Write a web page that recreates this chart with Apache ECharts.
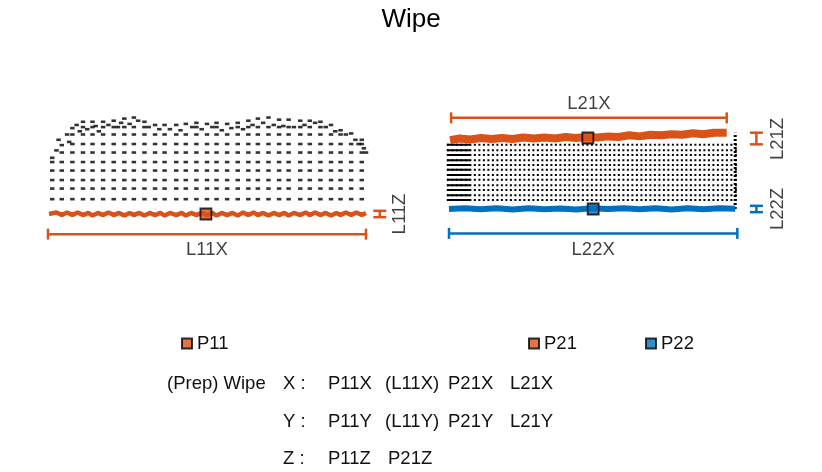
<!DOCTYPE html>
<html>
<head>
<meta charset="utf-8">
<script src="https://cdn.jsdelivr.net/npm/echarts@6/dist/echarts.min.js"></script>
<style>
  html, body { margin: 0; padding: 0; background: #fff; }
  #chart { width: 822px; height: 472px; }
</style>
</head>
<body>
<div id="chart"></div>
<script>
// left cloud (x, z in mm)
const leftColX = [4, 13, 23, 33, 42, 52, 62, 72, 81, 91, 101, 110, 121, 130, 140, 150, 159, 169, 179, 189, 198, 208, 218, 227, 238, 247, 257, 267, 276, 286, 296]
const leftColTop = [53, 65, 81, 87, 87, 87, 88, 90, 91, 87, 84, 84, 84, 85, 86, 85, 86, 85, 86, 88, 90, 91, 89, 89, 88, 88, 87, 84, 79, 76, 70]
const leftRowZ = [14, 24, 32, 41, 49, 58, 66, 75, 82]
const leftTopExtra = [[8, 60], [10, 70], [18, 75], [20, 68], [27, 84], [30, 78], [37, 80], [45, 83], [48, 78], [57, 84],
  [66, 82], [69, 86], [77, 85], [85, 88], [95, 82], [105, 80], [115, 80], [125, 79], [136, 82], [145, 80],
  [155, 82], [164, 79], [173, 81], [184, 80], [193, 84], [203, 86], [213, 84], [222, 83], [232, 82], [242, 84],
  [252, 86], [262, 82], [271, 78], [281, 75], [290, 70], [293, 66], [298, 62], [300, 58]]
const leftBandX = [1, 8, 13, 18, 23, 28, 33, 38, 42, 47, 52, 57, 62, 67, 72, 77, 81, 86, 91, 96, 101, 106, 110, 115, 121, 126, 130, 135, 140, 145,
  150, 155, 159, 164, 169, 174, 179, 184, 189, 194, 198, 203, 208, 213, 218, 223, 227, 232, 238, 243, 247, 252, 257, 262, 267, 272, 276, 281, 286, 291, 296, 300]
const leftBandZ = [0, 1.5, -1, 1.5, -1, 1.5, -1, 1, -1.5, 1, -1, 1.5, -1, 1, -1.5, 1, -1, 1, -1.5, 1, -1, 1, -1.5, 1, -1, 1, -1.5, 1, -1, 1,
  -1, 1, -1.5, 1, -1, 1, -1.5, 1.5, -1, 1.5, -1, 1, -1.5, 1, -1, 1, -1.5, 1, -1, 1.5, -1, 1.5, -1, 1, -1.5, 1, -1, 1.5, -1, 1.5, -1, 1]

// right cloud
const rightRowZ = [8.5, 13, 18, 22.5, 27.5, 32, 37, 41.5, 46, 51, 55.5, 60.5]
const rightRowStart = -2
const rightSolidEnd = 20
const rightRowEnd = 272
const rightEdgeX = 270
const rightTopX = [1, 10, 20, 30, 40, 50, 60, 70, 80, 90, 100, 110, 120, 130, 140, 150, 160, 170, 180, 190, 200, 210, 220, 230, 240, 250, 262]
const rightTopZ = [65, 66.5, 65.5, 67, 66, 67, 66, 67.5, 66.5, 67.5, 66.5, 68, 67, 68, 67.5, 68.5, 68, 69.5, 68.5, 70, 69.5, 70.5, 70, 71.5, 70.5, 72, 72]
const rightBotX = [0, 15, 30, 45, 60, 75, 90, 105, 120, 135, 150, 165, 180, 195, 210, 225, 240, 255, 270]
const rightBotZ = [0, 0.8, -0.3, 0.6, -0.4, 0.8, -0.3, 0.5, -0.5, 0.6, 0, 0.8, -0.3, 0.6, -0.4, 0.8, -0.3, 0.6, 0.2]

// points
const P11 = [149, 0]
const P21 = [131, 67]
const P22 = [136, 0]

// dimension lines
const dimL11X = [[0, -19], [300, -19]]
const dimL11Z = [[313, -3], [313, 3]]
const dimL21X = [[2, 86], [262, 86]]
const dimL21Z = [[290, 61], [290, 72]]
const dimL22X = [[0, -23], [272, -23]]
const dimL22Z = [[290, -3], [290, 3]]

const leftLabels = [{ name: 'L11X', value: [150, -34] }]
const leftVLabels = [{ name: 'L11Z', value: [332, 0] }]
const rightLabels = [{ name: 'L21X', value: [132, 99] }, { name: 'L22X', value: [136, -39] }]
const rightVLabels = [{ name: 'L21Z', value: [310, 66] }, { name: 'L22Z', value: [310, 0] }]

// text block under the figure
const rowHeads = ['X :', 'Y :', 'Z :']
const rowItems = [['P11X', '(L11X)', 'P21X', 'L21X'], ['P11Y', '(L11Y)', 'P21Y', 'L21Y'], ['P11Z', 'P21Z']]
const rowItemLeft = [[328, 385, 448, 510], [328, 385, 448, 510], [328, 388]]
const rowTop = [384, 422, 459]

const ORANGE = '#D95319'
const BLUE = '#0072BD'
const FONT = 'Liberation Sans'
const FS = 18.5

const leftDots = []
leftColX.forEach((x, i) => {
    leftRowZ.forEach(z => { if (z < leftColTop[i] - 3) leftDots.push([x, z]) })
    leftDots.push([x, leftColTop[i]])
})
leftTopExtra.forEach(p => leftDots.push(p))

const zip = (xs, zs) => xs.map((x, i) => [x, zs[i]])

const dimLine = (data, color, cap, grid) => ({
    type: 'line', xAxisIndex: grid, yAxisIndex: grid, data: data,
    symbol: 'rect', symbolSize: cap, showSymbol: true, clip: false,
    lineStyle: { color: color, width: 2.5 }, itemStyle: { color: color }, silent: true
})

const textSeries = (data, grid, rotate) => ({
    type: 'scatter', xAxisIndex: grid, yAxisIndex: grid, data: data,
    symbolSize: 1, itemStyle: { color: 'transparent' }, clip: false, silent: true,
    label: { show: true, position: 'inside', formatter: '{b}', rotate: rotate,
        fontFamily: FONT, fontSize: FS, color: '#111' }
})

const series = [
    { type: 'scatter', xAxisIndex: 0, yAxisIndex: 0, data: leftDots, symbol: 'rect', symbolSize: [4.5, 2.6],
      itemStyle: { color: '#000' }, silent: true },
    { type: 'line', xAxisIndex: 0, yAxisIndex: 0, data: zip(leftBandX, leftBandZ), showSymbol: false,
      lineStyle: { color: ORANGE, width: 4.5 }, silent: true },
]
rightRowZ.forEach(z => {
    series.push({ type: 'line', xAxisIndex: 1, yAxisIndex: 1, data: [[rightRowStart, z], [rightRowEnd, z]],
        showSymbol: false, lineStyle: { color: '#000', width: 2, type: [2, 2.5] }, silent: true })
    series.push({ type: 'line', xAxisIndex: 1, yAxisIndex: 1, data: [[rightRowStart, z], [rightSolidEnd, z]],
        showSymbol: false, lineStyle: { color: '#000', width: 2 }, silent: true })
})
series.push(
    { type: 'line', xAxisIndex: 1, yAxisIndex: 1, data: [[rightEdgeX, 0], [rightEdgeX, 72]], showSymbol: false,
      lineStyle: { color: '#000', width: 3, type: [2, 2] }, silent: true },
    { type: 'line', xAxisIndex: 1, yAxisIndex: 1, data: zip(rightTopX, rightTopZ), showSymbol: false,
      lineStyle: { color: ORANGE, width: 8 }, silent: true },
    { type: 'line', xAxisIndex: 1, yAxisIndex: 1, data: zip(rightBotX, rightBotZ), showSymbol: false,
      lineStyle: { color: BLUE, width: 6 }, silent: true },
    dimLine(dimL11X, ORANGE, [2.5, 11], 0),
    dimLine(dimL11Z, ORANGE, [13, 2.5], 0),
    dimLine(dimL21X, ORANGE, [2.5, 11], 1),
    dimLine(dimL21Z, ORANGE, [13, 2.5], 1),
    dimLine(dimL22X, BLUE, [2.5, 11], 1),
    dimLine(dimL22Z, BLUE, [13, 2.5], 1),
    textSeries(leftLabels, 0, 0),
    textSeries(leftVLabels, 0, 90),
    textSeries(rightLabels, 1, 0),
    textSeries(rightVLabels, 1, 90),
    { name: 'P11', type: 'scatter', xAxisIndex: 0, yAxisIndex: 0, data: [P11], symbol: 'rect', symbolSize: 11,
      itemStyle: { color: ORANGE, borderColor: '#000', borderWidth: 1.8 }, z: 5 },
    { name: 'P21', type: 'scatter', xAxisIndex: 1, yAxisIndex: 1, data: [P21], symbol: 'rect', symbolSize: 11,
      itemStyle: { color: ORANGE, borderColor: '#000', borderWidth: 1.8 }, z: 5 },
    { name: 'P22', type: 'scatter', xAxisIndex: 1, yAxisIndex: 1, data: [P22], symbol: 'rect', symbolSize: 11,
      itemStyle: { color: BLUE, borderColor: '#000', borderWidth: 1.8 }, z: 5 }
)

const legendBase = { icon: 'rect', itemWidth: 10, itemHeight: 10, itemGap: 5, top: 329,
    textStyle: { fontFamily: FONT, fontSize: FS, color: '#111' }, selectedMode: false }

const txt = (t, left, top) => ({ type: 'text', left: left, top: top,
    style: { text: t, font: FS + 'px ' + FONT, fill: '#111' } })

const graphic = [txt('(Prep) Wipe', 167, rowTop[0] - 10)]
rowHeads.forEach((h, r) => {
    graphic.push(txt(h, 283, rowTop[r] - 10))
    rowItems[r].forEach((t, k) => graphic.push(txt(t, rowItemLeft[r][k], rowTop[r] - 10)))
})

const option = {
    animation: false,
    backgroundColor: '#fff',
    title: { text: 'Wipe', left: 'center', top: 2,
        textStyle: { fontFamily: FONT, fontSize: 26, fontWeight: 'normal', color: '#000' } },
    legend: [
        Object.assign({ data: ['P11'], left: 176 }, legendBase),
        Object.assign({ data: ['P21'], left: 523 }, legendBase),
        Object.assign({ data: ['P22'], left: 640 }, legendBase)
    ],
    grid: [
        { left: 26.8, top: 108, width: 381.6, height: 153.7 },
        { left: 438.4, top: 97.7, width: 360.4, height: 159 }
    ],
    xAxis: [
        { type: 'value', gridIndex: 0, min: -20, max: 340, show: false },
        { type: 'value', gridIndex: 1, min: -10, max: 330, show: false }
    ],
    yAxis: [
        { type: 'value', gridIndex: 0, min: -45, max: 100, show: false },
        { type: 'value', gridIndex: 1, min: -45, max: 105, show: false }
    ],
    graphic: graphic,
    series: series
}

window.addEventListener('load', () => {
    const myChart = echarts.init(document.getElementById('chart'))
    myChart.setOption(option)
})
</script>
</body>
</html>
